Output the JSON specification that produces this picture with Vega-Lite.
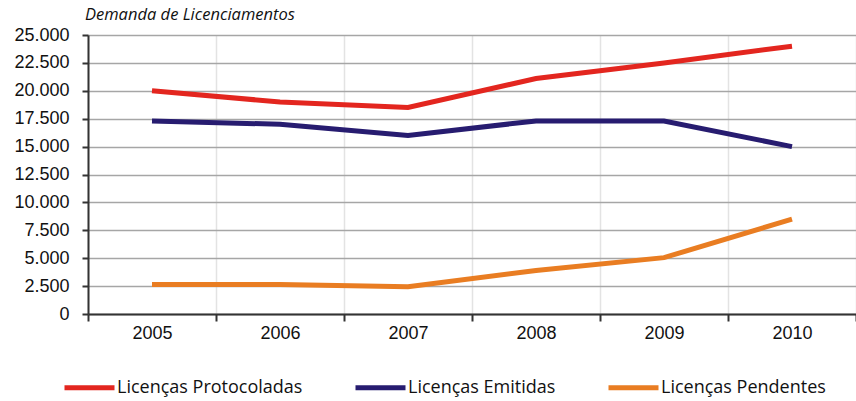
{
  "$schema": "https://vega.github.io/schema/vega-lite/v6.json",
  "width": 768,
  "height": 279,
  "autosize": {"type": "none"},
  "padding": {"left": 88, "top": 35, "right": 0, "bottom": 87},
  "background": "white",
  "config": {
    "locale": {"number": {"decimal": ",", "thousands": ".", "grouping": [3], "currency": ["R$", ""]}},
    "view": {"stroke": null},
    "font": "Liberation Sans"
  },
  "title": {
    "text": "Demanda de Licenciamentos",
    "anchor": "start",
    "frame": "group",
    "font": "Open Sans",
    "fontStyle": "italic",
    "fontWeight": "normal",
    "fontSize": 16.5,
    "color": "#111111",
    "dx": -3,
    "offset": 3
  },
  "data": {
    "values": [
      {"ano": "2005", "serie": "Licenças Protocoladas", "valor": 20000},
      {"ano": "2006", "serie": "Licenças Protocoladas", "valor": 19000},
      {"ano": "2007", "serie": "Licenças Protocoladas", "valor": 18500},
      {"ano": "2008", "serie": "Licenças Protocoladas", "valor": 21100},
      {"ano": "2009", "serie": "Licenças Protocoladas", "valor": 22500},
      {"ano": "2010", "serie": "Licenças Protocoladas", "valor": 24000},
      {"ano": "2005", "serie": "Licenças Emitidas", "valor": 17300},
      {"ano": "2006", "serie": "Licenças Emitidas", "valor": 17000},
      {"ano": "2007", "serie": "Licenças Emitidas", "valor": 16000},
      {"ano": "2008", "serie": "Licenças Emitidas", "valor": 17300},
      {"ano": "2009", "serie": "Licenças Emitidas", "valor": 17300},
      {"ano": "2010", "serie": "Licenças Emitidas", "valor": 15000},
      {"ano": "2005", "serie": "Licenças Pendentes", "valor": 2650},
      {"ano": "2006", "serie": "Licenças Pendentes", "valor": 2650},
      {"ano": "2007", "serie": "Licenças Pendentes", "valor": 2450},
      {"ano": "2008", "serie": "Licenças Pendentes", "valor": 3900},
      {"ano": "2009", "serie": "Licenças Pendentes", "valor": 5050},
      {"ano": "2010", "serie": "Licenças Pendentes", "valor": 8500}
    ]
  },
  "mark": {"type": "line", "strokeWidth": 5, "strokeCap": "butt", "strokeJoin": "miter"},
  "encoding": {
    "x": {
      "field": "ano",
      "type": "ordinal",
      "scale": {"type": "band", "paddingInner": 0, "paddingOuter": 0},
      "axis": {
        "title": null,
        "labelAngle": 0,
        "labelFont": "Liberation Sans",
        "labelFontSize": 18,
        "labelColor": "#111111",
        "labelPadding": 3,
        "tickBand": "extent",
        "domainColor": "#333333",
        "domainWidth": 2,
        "tickColor": "#333333",
        "tickWidth": 2,
        "tickSize": 7,
        "grid": true,
        "gridColor": "#e3e3e3",
        "gridWidth": 1.5
      }
    },
    "y": {
      "field": "valor",
      "type": "quantitative",
      "scale": {"domain": [0, 25000], "nice": false},
      "axis": {
        "title": null,
        "values": [0, 2500, 5000, 7500, 10000, 12500, 15000, 17500, 20000, 22500, 25000],
        "format": ",d",
        "labelFont": "Liberation Sans",
        "labelFontSize": 18,
        "labelColor": "#111111",
        "labelPadding": 13,
        "domainColor": "#333333",
        "domainWidth": 2,
        "tickColor": "#333333",
        "tickWidth": 2,
        "tickSize": 6,
        "grid": true,
        "gridColor": "#a6a6a6",
        "gridWidth": 1.5
      }
    },
    "color": {
      "field": "serie",
      "type": "nominal",
      "scale": {
        "domain": ["Licenças Protocoladas", "Licenças Emitidas", "Licenças Pendentes"],
        "range": ["#e3261f", "#271c70", "#e97d22"]
      },
      "legend": {
        "title": null,
        "orient": "none",
        "direction": "horizontal",
        "legendX": -26,
        "legendY": 325,
        "symbolType": "stroke",
        "symbolSize": 2500,
        "symbolStrokeWidth": 5,
        "labelFont": "Open Sans",
        "labelFontSize": 18,
        "labelColor": "#111111",
        "labelOffset": 0,
        "columnPadding": 42,
        "labelLimit": 400
      }
    }
  }
}
